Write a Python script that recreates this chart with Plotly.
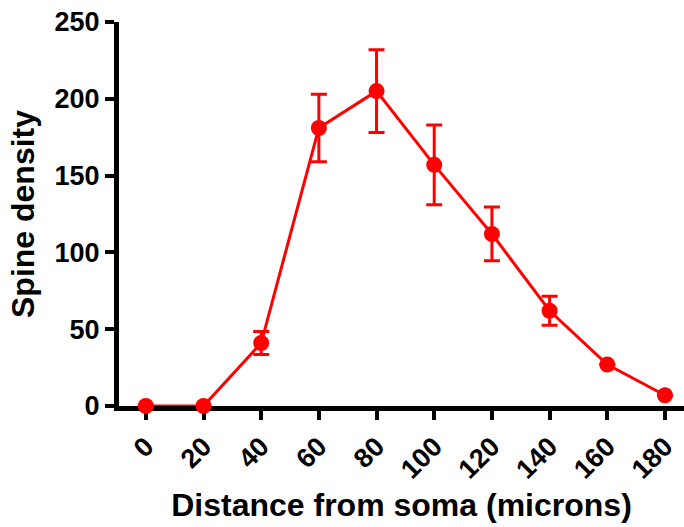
import plotly.graph_objects as go

distance = [0, 20, 40, 60, 80, 100, 120, 140, 160, 180]
density = [0, 0, 41, 181, 205, 157, 112, 62, 27, 7]
sem = [0, 0, 7.5, 22, 27, 26, 17.5, 9.5, 0, 0]
x_ticks = [0, 20, 40, 60, 80, 100, 120, 140, 160, 180]
y_ticks = [0, 50, 100, 150, 200, 250]

RED = "#FF0000"
FONT = "Liberation Sans"

fig = go.Figure(
    go.Scatter(
        x=distance,
        y=density,
        mode="lines+markers",
        line=dict(color=RED, width=3),
        marker=dict(color=RED, size=16),
        error_y=dict(type="data", array=sem, visible=True, color=RED, thickness=3, width=8),
        cliponaxis=False,
        showlegend=False,
    )
)

fig.update_layout(
    width=684,
    height=527,
    margin=dict(l=119, r=0, t=22, b=121),
    paper_bgcolor="white",
    plot_bgcolor="white",
    xaxis=dict(
        range=[-9.3, 186.6],
        tickvals=x_ticks,
        ticktext=[str(v) for v in x_ticks],
        tickangle=-45,
        showline=True,
        linecolor="black",
        linewidth=5,
        ticks="outside",
        ticklen=9,
        tickwidth=4,
        tickcolor="black",
        showgrid=False,
        zeroline=False,
        layer="below traces",
        tickfont=dict(family=FONT, size=27, color="black", weight="bold"),
        title=dict(text="Distance from soma (microns)", font=dict(family=FONT, size=32, color="black", weight="bold"), standoff=12),
    ),
    yaxis=dict(
        range=[0, 250],
        tickvals=y_ticks,
        showline=True,
        linecolor="black",
        linewidth=5,
        ticks="outside",
        ticklen=9,
        tickwidth=4,
        tickcolor="black",
        showgrid=False,
        zeroline=False,
        layer="below traces",
        tickfont=dict(family=FONT, size=27, color="black", weight="bold"),
        title=dict(text="Spine density", font=dict(family=FONT, size=32, color="black", weight="bold"), standoff=12),
    ),
)

fig.write_html("out.html")
